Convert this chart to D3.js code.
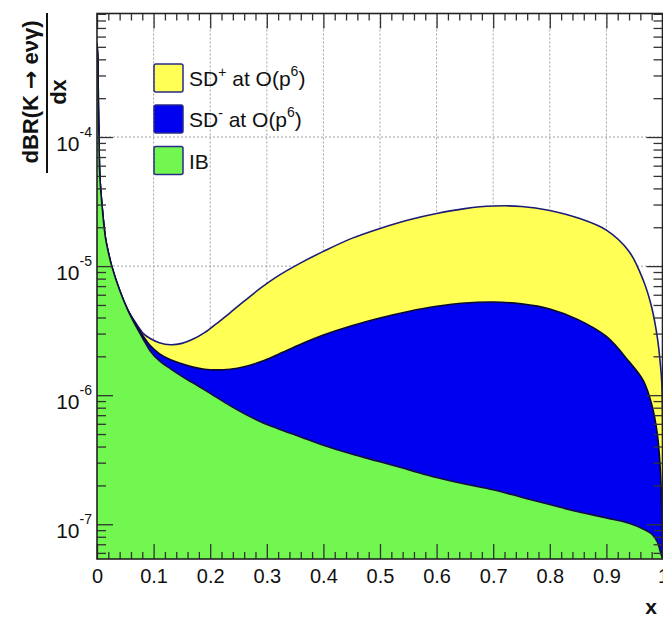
<!DOCTYPE html>
<html><head><meta charset="utf-8">
<script src="https://cdn.jsdelivr.net/npm/d3@7"></script>
<style>
html,body{margin:0;padding:0;background:#fff;}
svg text{font-family:"Liberation Sans",Arial,Helvetica,sans-serif;}
</style></head>
<body>
<svg id="c" width="663" height="618"></svg>
<script>
// ---- data ----
const xGrid = [0,0.0015,0.0025,0.0035,0.005,0.01,0.015,0.02,0.026,0.04,0.055,0.07,0.082,0.094,0.11,0.13,0.15,0.17,0.19,0.21,0.235,0.26,0.29,0.32,0.36,0.4,0.45,0.5,0.55,0.6,0.65,0.7,0.75,0.8,0.85,0.9,0.94,0.965,0.98,0.99,0.995,0.998,1.0];
const ibValues = [5.3e-4,4.0e-4,1.7e-4,1.0e-4,5.0e-5,2.6e-5,1.65e-5,1.28e-5,1.0e-5,6.5e-6,4.5e-6,3.35e-6,2.7e-6,2.2e-6,1.85e-6,1.6e-6,1.4e-6,1.24e-6,1.1e-6,9.7e-7,8.3e-7,7.2e-7,6.2e-7,5.5e-7,4.75e-7,4.1e-7,3.5e-7,3.05e-7,2.65e-7,2.3e-7,2.05e-7,1.85e-7,1.62e-7,1.42e-7,1.25e-7,1.12e-7,1.02e-7,9.2e-8,8.4e-8,7.3e-8,6.2e-8,5.6e-8,4e-8];
const sdMinusTop = [5.3e-4,4.0e-4,1.7e-4,1.0e-4,5.0e-5,2.6e-5,1.65e-5,1.28e-5,1.0e-5,6.5e-6,4.5e-6,3.45e-6,2.85e-6,2.42e-6,2.1e-6,1.88e-6,1.75e-6,1.65e-6,1.59e-6,1.57e-6,1.59e-6,1.66e-6,1.82e-6,2.07e-6,2.48e-6,2.92e-6,3.45e-6,3.96e-6,4.45e-6,4.88e-6,5.18e-6,5.27e-6,5.1e-6,4.66e-6,3.85e-6,2.85e-6,1.82e-6,1.3e-6,8.5e-7,5e-7,2.8e-7,1.3e-7,3e-8];
const sdPlusTop = [5.3e-4,4.0e-4,1.7e-4,1.0e-4,5.0e-5,2.6e-5,1.65e-5,1.28e-5,1.0e-5,6.5e-6,4.55e-6,3.55e-6,3.0e-6,2.75e-6,2.55e-6,2.46e-6,2.52e-6,2.72e-6,3.05e-6,3.55e-6,4.35e-6,5.35e-6,6.8e-6,8.4e-6,1.06e-5,1.3e-5,1.64e-5,1.96e-5,2.28e-5,2.56e-5,2.79e-5,2.92e-5,2.9e-5,2.7e-5,2.36e-5,1.9e-5,1.3e-5,7.8e-6,4.8e-6,2.8e-6,1.8e-6,1.2e-6,3e-8];
const xMajorTicks = [0,0.1,0.2,0.3,0.4,0.5,0.6,0.7,0.8,0.9,1];
const xTickLabels = ["0","0.1","0.2","0.3","0.4","0.5","0.6","0.7","0.8","0.9","1"];
const yMajorTicks = [1e-7,1e-6,1e-5,1e-4];
const yTickExponents = ["-7","-6","-5","-4"];
const legendLabels = [
  {base:"SD", sup1:"+", mid:" at O(p", sup2:"6", end:")"},
  {base:"SD", sup1:"-", mid:" at O(p", sup2:"6", end:")"},
  {base:"IB", sup1:"", mid:"", sup2:"", end:""}
];
const colors = {plus:"#ffff55", minus:"#0000f0", ib:"#72f650"};

// ---- layout ----
const L=97, R=662.5, T=13.5, B=559;
const svg = d3.select("#c");
const x = d3.scaleLinear().domain([0,1]).range([L,663]);
const y = d3.scaleLog().domain([5.38e-8,9.06e-4]).range([B,T]).clamp(true);

svg.append("defs").append("clipPath").attr("id","pc")
  .append("rect").attr("x",L).attr("y",T).attr("width",R-L).attr("height",B-T);

// grid
const grid = svg.append("g").attr("stroke","#a0a0a0").attr("stroke-width",1).attr("stroke-dasharray","2,2");
xMajorTicks.slice(1,-1).forEach(v=>{
  grid.append("line").attr("x1",x(v)).attr("x2",x(v)).attr("y1",T).attr("y2",B);
});
yMajorTicks.forEach(v=>{
  grid.append("line").attr("x1",L).attr("x2",R).attr("y1",y(v)).attr("y2",y(v));
});

function pts(vals){ return xGrid.map((xv,i)=>[xv,vals[i]]); }
const crv = d3.curveCatmullRom.alpha(0.5);
const area = d3.area().x(d=>x(d[0])).y0(B).y1(d=>y(d[1])).curve(crv);
const line = d3.line().x(d=>x(d[0])).y(d=>y(d[1])).curve(crv);
const pg = svg.append("g").attr("clip-path","url(#pc)");
[[sdPlusTop,colors.plus,"#1c1c78"],[sdMinusTop,colors.minus,"#0a0a30"],[ibValues,colors.ib,"#101040"]].forEach(([vals,fill,st])=>{
  pg.append("path").datum(pts(vals)).attr("d",area).attr("fill",fill);
  pg.append("path").datum(pts(vals)).attr("d",line).attr("fill","none").attr("stroke",st).attr("stroke-width",1.6);
});

// axes
const tickCol="#333";
function styleAxis(g){ g.select(".domain").remove(); g.selectAll("line").attr("stroke",tickCol).attr("stroke-width",1.3); }
const xMinor = d3.range(0,1.0001,0.02).filter(v=>Math.abs(v*10-Math.round(v*10))>1e-6);
// bottom
svg.append("g").attr("transform",`translate(0,${B})`)
  .call(d3.axisBottom(x).tickValues(xMajorTicks).tickSize(-15).tickPadding(10).tickFormat((d,i)=>xTickLabels[i]))
  .call(styleAxis)
  .call(g=>g.selectAll("text").attr("font-size",20).attr("fill","#111").attr("font-family","Liberation Sans, Arial, sans-serif"));
svg.append("g").attr("transform",`translate(0,${B})`)
  .call(d3.axisBottom(x).tickValues(xMinor).tickSize(-7).tickFormat(""))
  .call(styleAxis);
// top
svg.append("g").attr("transform",`translate(0,${T})`)
  .call(d3.axisTop(x).tickValues(xMajorTicks).tickSize(-15).tickFormat(""))
  .call(styleAxis);
svg.append("g").attr("transform",`translate(0,${T})`)
  .call(d3.axisTop(x).tickValues(xMinor).tickSize(-7).tickFormat(""))
  .call(styleAxis);
// y minor
const yMinor=[];
[-8,-7,-6,-5,-4].forEach(e=>{for(let k=2;k<=9;k++){const v=k*Math.pow(10,e); if(v>5.38e-8&&v<9.06e-4) yMinor.push(v);}});
// left
svg.append("g").attr("transform",`translate(${L},0)`)
  .call(d3.axisLeft(y).tickValues(yMajorTicks).tickSize(-16).tickPadding(5).tickFormat(""))
  .call(styleAxis)
  .call(g=>g.selectAll(".tick text").each(function(d,i){
     const t=d3.select(this).attr("font-size",21).attr("fill","#111").attr("dy","0.62em").attr("font-family","Liberation Sans, Arial, sans-serif");
     t.append("tspan").text("10");
     t.append("tspan").attr("font-size",14).attr("dy","-0.95em").text(yTickExponents[i]);
  }));
svg.append("g").attr("transform",`translate(${L},0)`)
  .call(d3.axisLeft(y).tickValues(yMinor).tickSize(-9).tickFormat(""))
  .call(styleAxis);
// right
svg.append("g").attr("transform",`translate(${R},0)`)
  .call(d3.axisRight(y).tickValues(yMajorTicks).tickSize(-16).tickFormat(""))
  .call(styleAxis);
svg.append("g").attr("transform",`translate(${R},0)`)
  .call(d3.axisRight(y).tickValues(yMinor).tickSize(-9).tickFormat(""))
  .call(styleAxis);

// frame
svg.append("rect").attr("x",L).attr("y",T).attr("width",R-L).attr("height",B-T)
  .attr("fill","none").attr("stroke","#222").attr("stroke-width",1.6);

// legend
const legFill=[colors.plus,colors.minus,colors.ib];
const legY=[78,119,160.5];
legendLabels.forEach((lab,i)=>{
  svg.append("rect").attr("x",154).attr("y",legY[i]-14).attr("width",29).attr("height",28)
    .attr("rx",2).attr("fill",legFill[i]).attr("stroke","#2a2a88").attr("stroke-width",1.5);
  const t=svg.append("text").attr("x",189).attr("y",legY[i]+8).attr("font-size",21).attr("fill","#111");
  t.append("tspan").text(lab.base);
  if(lab.sup1){
    t.append("tspan").attr("font-size",14).attr("dy",-9).text(lab.sup1);
    t.append("tspan").attr("dy",9).text(lab.mid);
    t.append("tspan").attr("font-size",14).attr("dy",-10).text(lab.sup2);
    t.append("tspan").attr("dy",10).text(lab.end);
  }
});

// y title
const yt = svg.append("text").attr("transform","translate(38,92) rotate(-90)").attr("text-anchor","middle")
  .attr("font-size",22).attr("font-weight","bold").attr("fill","#111");
yt.append("tspan").text("dBR(K ");
yt.append("tspan").attr("font-family","DejaVu Sans").attr("font-weight","bold").text("\u2192");
yt.append("tspan").text(" e\u03bd\u03b3)");
svg.append("line").attr("x1",47).attr("x2",47).attr("y1",13).attr("y2",173).attr("stroke","#111").attr("stroke-width",2);
svg.append("text").attr("transform","translate(66,92) rotate(-90)").attr("text-anchor","middle")
  .attr("font-size",22).attr("font-weight","bold").attr("fill","#111").text("dx");
// x title
svg.append("text").attr("x",657).attr("y",614).attr("text-anchor","end")
  .attr("font-size",21).attr("font-weight","bold").attr("fill","#111").text("x");
</script>
</body></html>
